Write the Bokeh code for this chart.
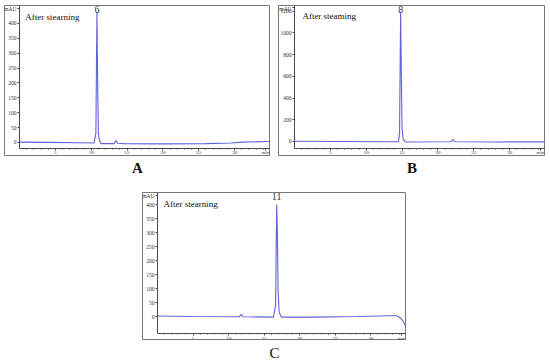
from bokeh.plotting import figure
from bokeh.models import FixedTicker, Title, Spacer
from bokeh.layouts import row, column
from bokeh.core.properties import value
from bokeh.embed import file_html
from bokeh.resources import INLINE

# ---- data ----
a_time = [0.0, 4.0, 8.0, 10.4, 10.65, 10.8, 10.9, 11.0, 11.15, 11.4, 13.2, 13.45, 13.7, 14.5, 20.0, 26.0, 29.5, 31.0, 35.0]
a_mau = [1, 0, -1, -2, 30, 438, 200, 30, 6, -4, -4, 6, -3, -4, -5, -4, -2, 1, 3]

b_time = [0.0, 6.0, 12.0, 14.5, 14.65, 14.8, 14.9, 15.0, 15.15, 15.5, 21.8, 22.1, 22.4, 28.0, 35.0]
b_mau = [2, 0, -2, -3, 80, 1195, 600, 120, 20, -4, -3, 18, -3, -4, -3]

c_time = [0.0, 5.0, 11.5, 11.75, 12.0, 16.3, 16.6, 16.75, 16.85, 16.95, 17.1, 17.4, 22.0, 28.0, 32.5, 33.6, 34.2, 34.6, 35.0]
c_mau = [2, 0, -1, 8, -1, -2, 40, 400, 300, 90, 15, -2, -2, 0, 3, 3, -6, -20, -42]

x_ticks = [5, 10, 15, 20, 25, 30, 34.3]
x_tick_labels = ["5", "10", "15", "20", "25", "30", "min"]
x_minor = list(range(1, 35))

a_y_ticks = [0, 50, 100, 150, 200, 250, 300, 350, 400, 450]
b_y_ticks = [0, 200, 400, 600, 800, 1000, 1200, 1236]
c_y_ticks = [0, 50, 100, 150, 200, 250, 300, 350, 400, 432]

panel_texts = ["After stearning", "After steaming", "After stearning"]
peak_labels = ["6", "8", "11"]
panel_letters = ["A", "B", "C"]

SERIF = "Liberation Serif"
LINE = "#6262d9"
AX = "#4a4a4a"


def make_panel(t, y, xr, yr, yt, xaxis_at, fw, fh, text, tx, ty, plabel, px, py, letter, bold, stand):
    p = figure(width=fw, height=fh + 18 + stand, frame_width=fw, frame_height=fh,
               x_range=xr, y_range=yr, output_backend="svg", toolbar_location=None,
               x_axis_location="below", y_axis_location="left",
               min_border_left=0, min_border_right=0, min_border_top=0, min_border_bottom=0)
    p.grid.visible = False
    p.outline_line_color = "#777777"
    p.outline_line_width = 1
    p.background_fill_color = "white"
    p.border_fill_color = "white"

    p.line(t, y, line_color=LINE, line_width=1.1)

    # axes drawn inside the frame at fixed positions
    xa = p.xaxis[0]
    xa.fixed_location = xaxis_at
    xa.bounds = (0, 35)
    xa.ticker = FixedTicker(ticks=x_ticks, minor_ticks=x_minor)
    xa.major_label_overrides = {k: v for k, v in zip(x_ticks, x_tick_labels)}
    xa.major_label_text_font_size = "5px"
    xa.major_tick_out = 2
    xa.minor_tick_out = 1
    xa.major_label_standoff = 0
    ya = p.yaxis[0]
    ya.fixed_location = 0
    ya.bounds = (xaxis_at, yr[1])
    ya.ticker = FixedTicker(ticks=yt, minor_ticks=[])
    ya.major_label_overrides = {yt[-1]: "mAU"}
    ya.major_label_text_font_size = "5.5px"
    ya.major_tick_out = 2
    ya.major_label_standoff = 1
    for ax in (xa, ya):
        ax.axis_line_color = AX
        ax.major_tick_line_color = AX
        ax.minor_tick_line_color = AX
        ax.major_tick_in = 0
        ax.minor_tick_in = 0
        ax.major_label_text_font = SERIF
        ax.major_label_text_color = "#333333"

    p.text(x=[tx], y=[ty], text=[text], text_font=value(SERIF), text_font_size="9px",
           text_color="#111111", text_align="left", text_baseline="middle")
    p.text(x=[px], y=[py], text=[plabel], text_font=value(SERIF), text_font_size="10px",
           text_color="#333333", text_align="center", text_baseline="top")

    p.add_layout(Title(text=letter, align="center", text_font=SERIF, text_font_size="15px",
                       text_font_style="bold" if bold else "normal", text_color="#111111",
                       standoff=stand), "below")
    return p


pA = make_panel(a_time, a_mau, (-2.09, 35), (-44, 460), a_y_ticks, -20, 266, 150,
                panel_texts[0], 0.8, 420, peak_labels[0], 10.8, 459, panel_letters[0], True, 4)
pB = make_panel(b_time, b_mau, (-2.23, 35), (-129, 1253), b_y_ticks, -64, 267, 150,
                panel_texts[1], 1.1, 1152, peak_labels[1], 14.8, 1251, panel_letters[1], True, 4)
pC = make_panel(c_time, c_mau, (-2.11, 35), (-82, 443), c_y_ticks, -61, 264, 147,
                panel_texts[2], 0.85, 403, peak_labels[2], 16.75, 440, panel_letters[2], False, 7)

layout = column(
    Spacer(width=10, height=5),
    row(Spacer(width=4, height=10), pA, Spacer(width=8, height=10), pB),
    Spacer(width=10, height=15),
    row(Spacer(width=142, height=10), pC),
)

open("out.html", "w").write(file_html(layout, INLINE))
